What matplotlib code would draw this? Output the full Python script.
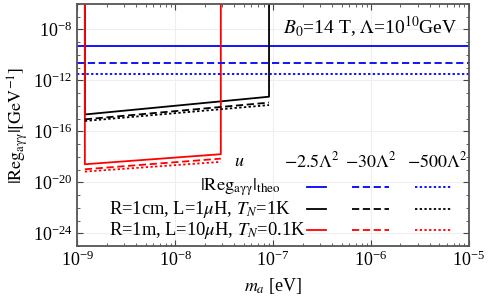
import matplotlib
matplotlib.use('Agg')
import matplotlib.pyplot as plt
from matplotlib.lines import Line2D

plt.rcParams['font.family'] = ['Liberation Serif', 'DejaVu Serif']
plt.rcParams['mathtext.fontset'] = 'stix'

# axion mass range of the two setups (eV)
ma_start = 1.2e-9
ma_end_black = 9.1e-8
ma_end_red = 2.93e-8

# u = -2.5, -30, -500 Lambda^2
u_labels = [r'$-2.5\Lambda^2$', r'$-30\Lambda^2$', r'$-500\Lambda^2$']
theo = [4.9e-10, 2.4e-11, 3.0e-12]
black_start = [2.1e-15, 8.7e-16, 6.5e-16]
black_end = [5.2e-14, 1.8e-14, 1.15e-14]
red_start = [2.6e-19, 1.05e-19, 6.9e-20]
red_end = [1.6e-18, 7.2e-19, 4.0e-19]

row_labels = [r'$|\mathrm{Reg_{a\gamma\gamma}}|_{\mathrm{theo}}$',
              r'R=1cm, L=1$\mu$H, $T_N$=1K',
              r'R=1m, L=10$\mu$H, $T_N$=0.1K']
colors = ['#0000ff', 'black', '#ff0000']
styles = ['-', (0, (4, 2)), (0, (1.3, 1.3))]

fig = plt.figure(figsize=(4.88, 3.0), dpi=100)
ax = fig.add_axes([0.158, 0.18, 0.803, 0.807])

top = 1.0
for i in range(3):
    ax.plot([1e-9, 1e-5], [theo[i], theo[i]], color=colors[0], ls=styles[i], lw=1.3)
    if i == 0:
        ax.plot([ma_start, ma_start, ma_end_black, ma_end_black],
                [top, black_start[i], black_end[i], top], color='black', lw=1.3)
        ax.plot([ma_start, ma_start, ma_end_red, ma_end_red],
                [top, red_start[i], red_end[i], top], color='#ff0000', lw=1.3)
    else:
        ax.plot([ma_start, ma_end_black], [black_start[i], black_end[i]],
                color='black', ls=styles[i], lw=1.3)
        ax.plot([ma_start, ma_end_red], [red_start[i], red_end[i]],
                color='#ff0000', ls=styles[i], lw=1.3)

ax.set_xscale('log')
ax.set_yscale('log')
ax.set_xlim(1e-9, 1e-5)
ax.set_ylim(1e-25, 1e-6)
ax.set_xticks([1e-9, 1e-8, 1e-7, 1e-6, 1e-5])
ax.set_yticks([1e-24, 1e-20, 1e-16, 1e-12, 1e-8])
ax.yaxis.set_minor_locator(matplotlib.ticker.LogLocator(base=10, subs=[1.0], numticks=40))
ax.yaxis.set_minor_formatter(matplotlib.ticker.NullFormatter())
ax.grid(True, which='major', color='#efefef', lw=0.8)
ax.set_axisbelow(True)
ax.tick_params(which='both', direction='in', labelsize=13, colors='#444444',
               labelcolor='black', top=True, right=True)
ax.tick_params(which='major', length=4)
ax.tick_params(which='minor', length=2)
for s in ax.spines.values():
    s.set_color('#555555')
    s.set_linewidth(1.3)

ax.set_xlabel(r'$m_a$ [eV]', fontsize=13)
ax.set_ylabel(r'$|\mathrm{Reg_{a\gamma\gamma}}|[\mathrm{GeV}^{-1}]$', fontsize=13, labelpad=2)

ax.text(0.749, 0.905, r'$B_0$=14 T, $\Lambda$=10$^{10}$GeV', transform=ax.transAxes,
        ha='center', va='center', fontsize=14)

# table-style legend
ax.text(0.413, 0.35, r'$u$', transform=ax.transAxes, ha='center', va='center', fontsize=13)
col_x = [0.6, 0.75, 0.918]
for j, lab in enumerate(u_labels):
    ax.text(col_x[j], 0.35, lab, transform=ax.transAxes, ha='center', va='center', fontsize=13)
row_y = [0.244, 0.152, 0.066]
ax.text(0.416, row_y[0], row_labels[0], transform=ax.transAxes, ha='center', va='center', fontsize=13.3)
ax.text(0.082, row_y[1], row_labels[1], transform=ax.transAxes, ha='left', va='center', fontsize=13.3)
ax.text(0.082, row_y[2], row_labels[2], transform=ax.transAxes, ha='left', va='center', fontsize=13.3)
seg = [(0.586, 0.635), (0.702, 0.796), (0.862, 0.957)]
for r in range(3):
    for j in range(3):
        ax.add_line(Line2D(seg[j], [row_y[r], row_y[r]], transform=ax.transAxes,
                           color=colors[r], ls=styles[j], lw=1.3))

fig.savefig('out.png', dpi=100)
